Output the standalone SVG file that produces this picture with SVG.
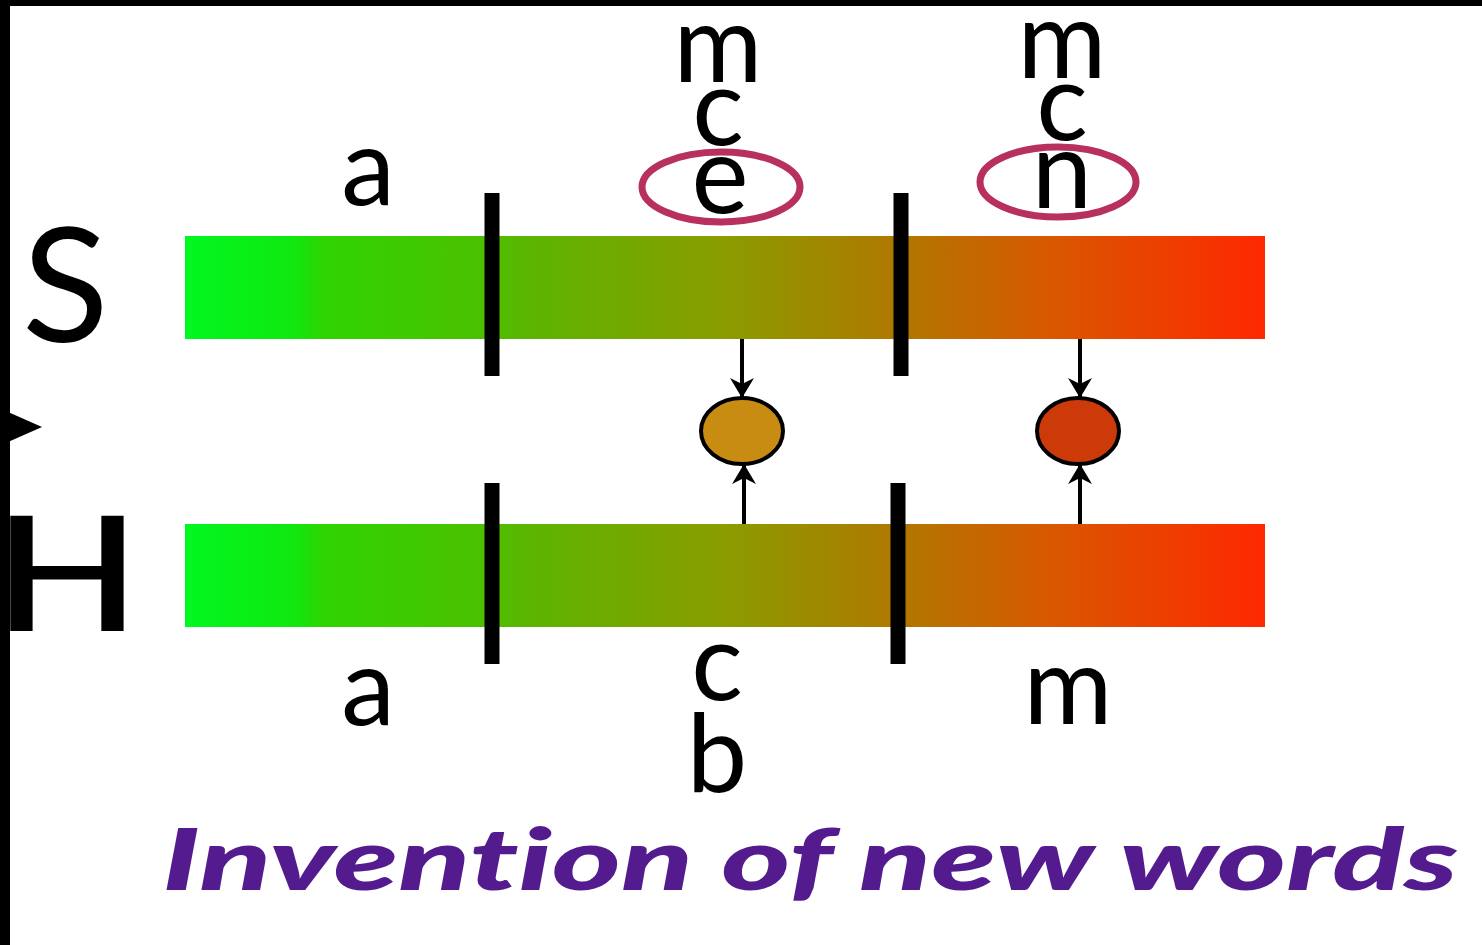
<svg xmlns="http://www.w3.org/2000/svg" width="1482" height="945" viewBox="0 0 1482 945">
<defs>
<linearGradient id="bar" x1="185" y1="0" x2="1265" y2="0" gradientUnits="userSpaceOnUse">
<stop offset="0" stop-color="#00f820"/>
<stop offset="0.1" stop-color="#10e810"/>
<stop offset="0.13" stop-color="#30d400"/>
<stop offset="0.28" stop-color="#4cc000"/>
<stop offset="0.32" stop-color="#5cb400"/>
<stop offset="0.5" stop-color="#8a9c00"/>
<stop offset="0.66" stop-color="#b07800"/>
<stop offset="0.8" stop-color="#d85800"/>
<stop offset="1" stop-color="#ff2800"/>
</linearGradient>
<marker id="ah" viewBox="0 0 20 24" refX="19" refY="12" markerWidth="20" markerHeight="24" markerUnits="userSpaceOnUse" orient="auto">
<path d="M0,0 L20,12 L0,24 L6,12 z" fill="#000"/>
</marker>
<style>
.lt{font-family:Lato,"Open Sans","DejaVu Sans",sans-serif;font-size:108px;fill:#000;text-anchor:middle}
.big{font-family:Lato,"Open Sans","DejaVu Sans",sans-serif;font-size:160px;fill:#000}
.sep{stroke:#000;stroke-width:15}
.con{stroke:#000;stroke-width:4;fill:none}
.ring{fill:none;stroke:#b8305f;stroke-width:7}
.node{stroke:#000;stroke-width:4}
.title{font-family:Lato,"Open Sans",sans-serif;font-weight:900;font-style:italic;font-size:86px;fill:#541b8e;font-variant-ligatures:none;font-feature-settings:"liga" 0,"clig" 0}
</style>
</defs>
<rect width="1482" height="945" fill="#fff"/>
<g id="labels-left">
<text class="big" x="22" y="342">S</text>
<text class="big" x="-6" y="631" textLength="146" lengthAdjust="spacingAndGlyphs" font-weight="600">H</text>
<path d="M8,412 L42,427 L8,442 z" fill="#000"/>
</g>
<g id="bar-s">
<rect x="185" y="236" width="1080" height="103" fill="url(#bar)"/>
<line class="sep" x1="492" y1="193" x2="492" y2="376"/>
<line class="sep" x1="901" y1="193" x2="901" y2="376"/>
</g>
<g id="bar-h">
<rect x="185" y="524" width="1080" height="103" fill="url(#bar)"/>
<line class="sep" x1="492" y1="483" x2="492" y2="664"/>
<line class="sep" x1="898" y1="483" x2="898" y2="664"/>
</g>
<g id="top-letters">
<text class="lt" x="368" y="205">a</text>
<text class="lt" x="718" y="82">m</text>
<text class="lt" x="718" y="145">c</text>
<text class="lt" x="720" y="213">e</text>
<text class="lt" x="1062" y="78">m</text>
<text class="lt" x="1062" y="140">c</text>
<text class="lt" x="1062" y="208">n</text>
</g>
<g id="rings">
<ellipse class="ring" cx="721" cy="187" rx="79" ry="35"/>
<ellipse class="ring" cx="1058" cy="182" rx="78" ry="35"/>
</g>
<g id="bottom-letters">
<text class="lt" x="368" y="725">a</text>
<text class="lt" x="717" y="700">c</text>
<text class="lt" x="717" y="792">b</text>
<text class="lt" x="1068" y="724">m</text>
</g>
<g id="connectors">
<line class="con" x1="742" y1="339" x2="742" y2="397" marker-end="url(#ah)"/>
<line class="con" x1="744" y1="524" x2="744" y2="465" marker-end="url(#ah)"/>
<line class="con" x1="1080" y1="339" x2="1080" y2="397" marker-end="url(#ah)"/>
<line class="con" x1="1080" y1="524" x2="1080" y2="465" marker-end="url(#ah)"/>
</g>
<g id="node-orange">
<ellipse class="node" cx="742" cy="431" rx="41" ry="33" fill="#c98c12"/>
</g>
<g id="node-red">
<ellipse class="node" cx="1078" cy="431" rx="41" ry="33" fill="#cc3a0a"/>
</g>
<g id="title">
<text class="title" x="162" y="890" textLength="1296" lengthAdjust="spacingAndGlyphs">Invention of new words</text>
</g>
<g id="frame">
<rect x="0" y="0" width="1482" height="6" fill="#000"/>
<rect x="0" y="0" width="10" height="945" fill="#000"/>
</g>
</svg>
